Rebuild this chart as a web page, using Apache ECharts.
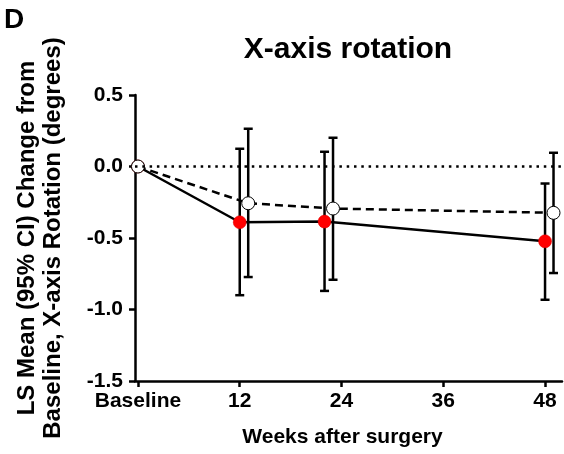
<!DOCTYPE html>
<html>
<head>
    <meta charset="UTF-8" />
    <title>X-axis rotation</title>
    <style>
        body { margin: 0; background: #fff; }
        #A { width: 564px; height: 454px; }
    </style>
</head>
<body>
    <div id="A"></div>
    <script src="https://cdn.jsdelivr.net/npm/echarts/dist/echarts.min.js"></script>
    <script>
        // tick labels on the weeks axis
        var weekTicks = [0, 12, 24, 36, 48];
        var weekLabels = ['Baseline', '12', '24', '36', '48'];

        // solid line, red points
        var solidWeeks = [0, 12, 22, 48];
        var solidMean = [0, -0.39, -0.385, -0.523];
        var solidLow = [null, -0.90, -0.87, -0.932];
        var solidHigh = [null, 0.124, 0.103, -0.119];

        // dashed line, open points (shifted one week right)
        var dashWeeks = [0, 13, 23, 49];
        var dashMean = [0, -0.257, -0.294, -0.324];
        var dashLow = [null, -0.773, -0.792, -0.745];
        var dashHigh = [null, 0.264, 0.201, 0.096];

        var font = 'Liberation Sans, Arial, sans-serif';

        function pairs(xs, ys) {
            return xs.map(function (x, i) { return [x, ys[i]]; });
        }
        function bars(xs, lo, hi) {
            var out = [];
            xs.forEach(function (x, i) {
                if (lo[i] != null) out.push([x, lo[i], hi[i]]);
            });
            return out;
        }
        function renderBar(params, api) {
            var x = api.value(0);
            var lo = api.coord([x, api.value(1)]);
            var hi = api.coord([x, api.value(2)]);
            var w = 4.5;
            var st = { stroke: '#000', lineWidth: 2.5 };
            return {
                type: 'group',
                children: [
                    { type: 'line', shape: { x1: lo[0], y1: lo[1], x2: hi[0], y2: hi[1] }, style: st },
                    { type: 'line', shape: { x1: lo[0] - w, y1: lo[1], x2: lo[0] + w, y2: lo[1] }, style: st },
                    { type: 'line', shape: { x1: hi[0] - w, y1: hi[1], x2: hi[0] + w, y2: hi[1] }, style: st }
                ]
            };
        }

        var myChart = echarts.init(document.getElementById('A'));
        var option = {
            animation: false,
            backgroundColor: '#fff',
            textStyle: { fontFamily: font },
            title: {
                text: 'X-axis rotation',
                left: 343,
                top: 30,
                textAlign: 'center',
                textStyle: { fontFamily: font, fontSize: 30, fontWeight: 'bold', color: '#000' }
            },
            graphic: [{
                type: 'text',
                left: 4,
                top: 6,
                style: { text: 'D', font: 'bold 28px ' + font, fill: '#000' }
            }],
            grid: { left: 135, right: 2, top: 95, bottom: 73 },
            xAxis: {
                type: 'value',
                min: -0.35,
                max: 50,
                name: 'Weeks after surgery',
                nameLocation: 'middle',
                nameGap: 46,
                nameTextStyle: { fontSize: 21, fontWeight: 'bold', color: '#000', padding: [0, 12, 0, 0] },
                axisLine: { onZero: false, lineStyle: { color: '#000', width: 2.5 } },
                axisTick: { customValues: weekTicks, length: 6, lineStyle: { color: '#000', width: 2.5 } },
                axisLabel: {
                    customValues: weekTicks,
                    margin: 10,
                    fontSize: 21,
                    fontWeight: 'bold',
                    color: '#000',
                    formatter: function (v) { return weekLabels[weekTicks.indexOf(v)]; }
                },
                splitLine: { show: false }
            },
            yAxis: {
                type: 'value',
                min: -1.5,
                max: 0.5,
                interval: 0.5,
                name: 'LS Mean (95% CI) Change from\nBaseline, X-axis Rotation (degrees)',
                nameLocation: 'middle',
                nameGap: 69,
                nameTextStyle: { fontSize: 24, fontWeight: 'bold', color: '#000', lineHeight: 26 },
                axisLine: { show: true, onZero: false, lineStyle: { color: '#000', width: 2.5 } },
                axisTick: { show: true, length: 6, lineStyle: { color: '#000', width: 2.5 } },
                axisLabel: {
                    margin: 12,
                    fontSize: 21,
                    fontWeight: 'bold',
                    color: '#000',
                    formatter: function (v) { return v.toFixed(1); }
                },
                splitLine: { show: false }
            },
            series: [
                {
                    type: 'custom',
                    z: 1,
                    renderItem: renderBar,
                    data: bars(solidWeeks, solidLow, solidHigh)
                },
                {
                    type: 'custom',
                    z: 1,
                    renderItem: renderBar,
                    data: bars(dashWeeks, dashLow, dashHigh)
                },
                {
                    type: 'line',
                    z: 3,
                    data: pairs(solidWeeks, solidMean),
                    lineStyle: { color: '#000', width: 2.5 },
                    symbol: 'circle',
                    symbolSize: 13,
                    itemStyle: { color: '#ff0000', borderColor: '#e00000', borderWidth: 0.5 },
                    markLine: {
                        silent: true,
                        symbol: 'none',
                        label: { show: false },
                        lineStyle: { color: '#000', width: 2.5, type: [2.5, 4.8] },
                        data: [{ yAxis: 0 }]
                    }
                },
                {
                    type: 'line',
                    z: 4,
                    data: pairs(dashWeeks, dashMean),
                    lineStyle: { color: '#000', width: 2.5, type: [8, 5] },
                    symbol: 'circle',
                    symbolSize: 13,
                    itemStyle: { color: '#fff', borderColor: '#000', borderWidth: 1 }
                }
            ]
        };
        myChart.setOption(option);
    </script>
</body>
</html>
